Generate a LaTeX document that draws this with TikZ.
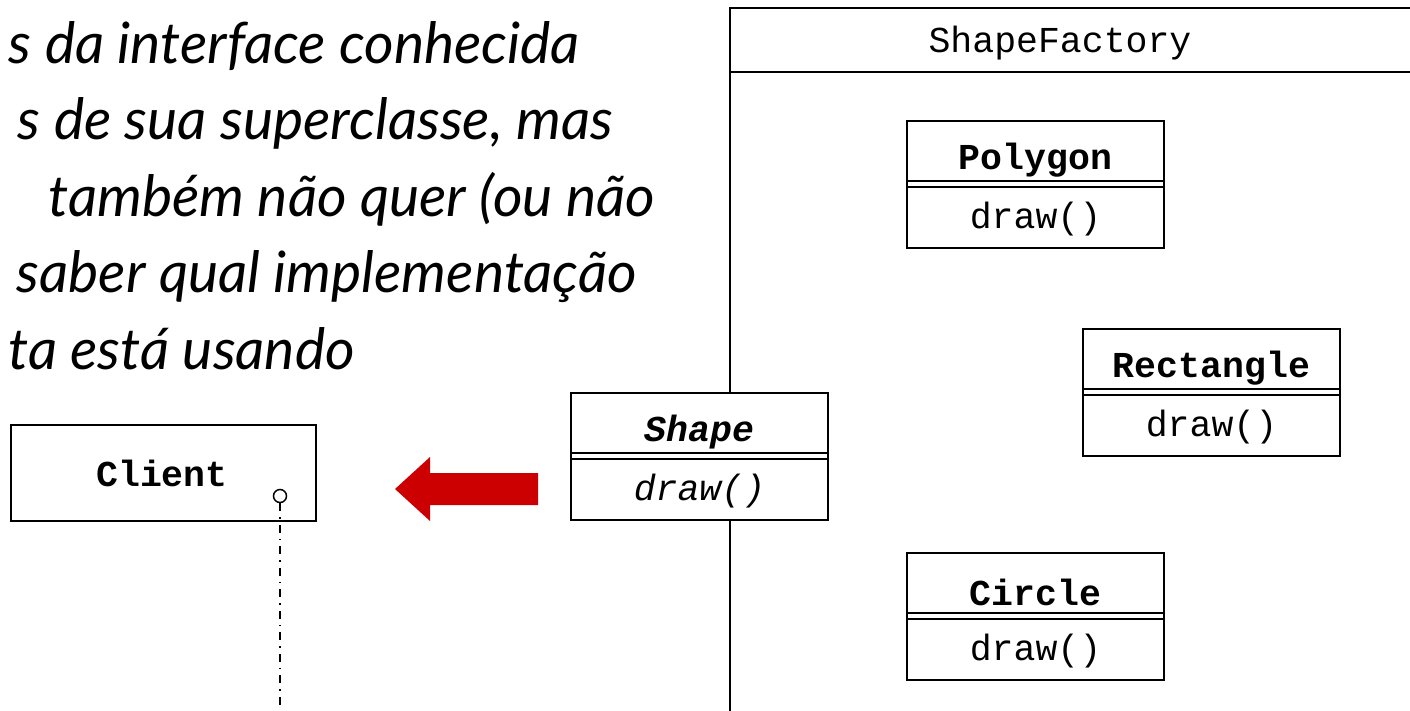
\documentclass[tikz,border=0pt]{standalone}
\usepackage{fontspec}
\setmainfont{Lato}
\newfontfamily\cour{Liberation Mono}
\definecolor{arrowred}{HTML}{CC0000}
\begin{document}
\begin{tikzpicture}[x=1pt,y=-1pt,
  classbox/.style={draw, line width=2pt, fill=white, minimum width=257pt, minimum height=127pt, inner sep=0pt, anchor=north west},
  sep/.style={line width=2pt},
  cname/.style={font=\cour\bfseries\fontsize{36.5}{40}\selectfont, inner sep=0pt},
  cmeth/.style={font=\cour\fontsize{36.5}{40}\selectfont, inner sep=0pt},
  slide/.style={font=\itshape\fontsize{57}{68}\selectfont, anchor=base east, inner sep=0pt}]
\useasboundingbox (0,0) rectangle (1410,710);
\clip (0,0) rectangle (1410,710);
\fill[white] (0,0) rectangle (1410,710);

% slide text
\node[slide] (t1) at (580,63) {s da interface conhecida};
\node[slide] (t2) at (613,139) {s de sua superclasse, mas};
\node[slide] (t3) at (655,216) {também não quer (ou não};
\node[slide] (t4) at (637,292) {saber qual implementação};
\node[slide] (t5) at (355,369) {ta está usando};

% ShapeFactory package
\draw[line width=1.5pt] (730,720) -- (730,8) -- (1420,8);
\draw[line width=2pt] (730,72) -- (1420,72);
\node[cmeth] (sf) at (1060,43) {ShapeFactory};

% class boxes
\foreach \n/\x/\y/\t/\m in {P/906/120/Polygon/draw(), R/1082/328/Rectangle/draw(), C/906/552/Circle/draw()}{
  \node[classbox] (\n) at (\x,\y) {};
  \draw[sep] ([yshift=-61pt]\n.north west) -- ([yshift=-61pt]\n.north east);
  \draw[sep] ([yshift=-67pt]\n.north west) -- ([yshift=-67pt]\n.north east);
  \node[cname] (\n name) at ([yshift=-40pt]\n.north) {\t};
  \node[cmeth] (\n meth) at ([yshift=-99pt]\n.north) {\m};
}

\node[classbox] (S) at (570,392) {};
\draw[sep] ([yshift=-61pt]S.north west) -- ([yshift=-61pt]S.north east);
\draw[sep] ([yshift=-67pt]S.north west) -- ([yshift=-67pt]S.north east);
\node[cname, font=\cour\bfseries\itshape\fontsize{36.5}{40}\selectfont] (Sname) at ([yshift=-40pt]S.north) {Shape};
\node[cmeth, font=\cour\itshape\fontsize{36.5}{40}\selectfont] (Smeth) at ([yshift=-99pt]S.north) {draw()};

% Client
\node[draw, line width=2pt, minimum width=305pt, minimum height=96pt, inner sep=0pt, anchor=north west] (cl) at (10,424) {};
\node[cname] (clname) at (162,473) {Client};
\node[circle, draw, line width=1.5pt, minimum size=13pt, inner sep=0pt] (lol) at (280,496) {};
\coordinate (lolend) at (280,712);
\draw[line width=1.5pt, dash pattern=on 8pt off 6pt on 1.5pt off 6pt] (lol.south) -- (lolend);

% red arrow
\fill[arrowred] (395,489) -- (430,457) -- (430,473) -- (538,473) -- (538,505) -- (430,505) -- (430,521) -- cycle;
\end{tikzpicture}
\end{document}
